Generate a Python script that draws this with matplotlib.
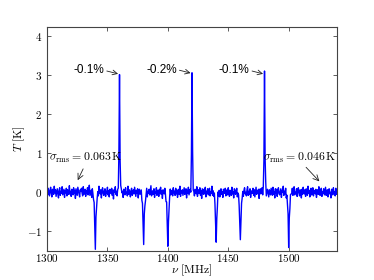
import numpy as np
import matplotlib
matplotlib.use("Agg")
import matplotlib.pyplot as plt
from matplotlib.ticker import FuncFormatter, MultipleLocator

plt.rcParams["mathtext.fontset"] = "cm"
plt.rcParams["font.family"] = ["DejaVu Serif"]

# baseline noise, in units of 0.013 K, one value every 0.5 MHz from 1300 MHz
noise_units = """
3 -5 8 1 -7 4 10 -2 -9 6 2 -4 12 -1 5 -8 0 7 -3 -11
4 9 -6 2 -2 11 -5 1 6 -10 3 -1 8 -7 5 0 -4 13 -3 2
-8 6 1 -5 9 -2 4 -12 7 0 -6 10 3 -3 -9 5 2 8 -1 -7
11 -4 0 6 -8 3 -2 9 -5 1 14 -6 -1 4 -10 7 2 -3 5 -9
1 8 -4 -1 6 -7 12 0 -3 5 -11 4 9 -2 -6 3 7 -8 2 -1
10 -5 3 -9 6 1 -2 8 -6 4 -13 5 0 11 -4 2 -7 6 -1 9
-3 -8 4 7 -1 2 -10 6 3 -5 9 -2 0 -7 12 -4 5 1 -9 3
8 -6 -2 5 -3 10 1 -8 4 -1 7 -11 3 6 -4 0 9 -5 2 -7
5 11 -3 -6 1 8 -9 2 -2 6 -5 4 13 -7 0 3 -4 7 -10 1
-2 9 -6 4 2 -8 6 -1 10 -4 3 -12 5 0 -3 8 1 -7 6 -5
7 -2 -9 3 11 -5 1 4 -7 9 -1 2 -6 8 -3 5 -10 0 6 -4
12 -8 3 -1 5 -6 2 9 -4 0 7 -11 4 -2 10 -5 1 6 -9 3
-1 8 -5 2 -7 6 4 -3 11 -8 0 5 -2 9 -6 3 -12 7 1 -4
6 -3 10 -9 2 -1 7 -5 4 8 -7 1 -2 12 -6 3 -4 9 -1 -8
5 0 -6 11 -3 4 -9 2 7 -4 1 -10 6 3 -2 8 -7 0 5 -5
9 -1 -8 4 2 -6 10 -3 1 -11 7 5 -4 0 8 -9 3 6 -2 -7
13 -5 2 -1 6 -8 4 9 -3 0 -7 5 11 -6 2 -4 7 -10 1 3
-2 8 -6 5 -9 1 10 -4 3 -1 6 -12 4 7 -3 0 9 -5 2 -8
4 -3 11 -7 0 6 -2 -9 5 3 -5 8 1 -6 10 -4 2 -11 7 -1
6 -8 3 9 -2 -5 1 7 -10 4 0 12 -6 2 -3 8 -7 5 -1 10
-4 2 -9 6 1 -3 8 -6 4 11 -5 0 -2 7 -8 3 9 -1 -7 5
2 -11 6 -4 10 1 -3 5 -8 7 0 -6 12 -2 4 -9 3 8 -5 -1
9 -7 4 0 -3 6 -10 2 5 -4 11 -1 -6 3 8 -8 1 -2 7 -5
3 10 -6 -1 5 -9 2 7 -3 0 -11 6 4 -5 9 -2 1 -7 8 -4
2
"""
noise_unit_k = 0.013
f_start = 1300.0
f_step = 0.5

spike_centres = [1360, 1420, 1480]
spike_peaks = [3.05, 3.07, 3.05]
spike_shape = [0.04, 0.3, 1.0, 0.3, 0.04]

dip_centres = [1340, 1380, 1400, 1440, 1460, 1500]
dip_depths = [-1.47, -1.40, -1.47, -1.34, -1.38, -1.36]
dip_shape = [0.04, 0.1, 0.22, 0.5, 1.0, 0.5, 0.22, 0.1, 0.04]

peak_labels = ["-0.1%", "-0.2%", "-0.1%"]
peak_text_x = [1347.2, 1407.3, 1467.4]

rms_labels = [r"$\sigma_{\rm rms} = 0.063\,{\rm K}$", r"$\sigma_{\rm rms} = 0.046\,{\rm K}$"]
rms_text = [(1331.9, 0.89), (1509.4, 0.89)]
rms_arrow_from = [(1329.9, 0.60), (1514.4, 0.64)]
rms_arrow_to = [(1325.4, 0.31), (1525.4, 0.28)]

# build spectrum
temp = np.array(noise_units.split(), dtype=float) * noise_unit_k
freq = f_start + f_step * np.arange(len(temp))


def add_line(centre, amp, shape):
    i0 = int(round((centre - f_start) / f_step))
    half = len(shape) // 2
    temp[i0 - half:i0 + half + 1] += amp * np.array(shape)


for c, a in zip(spike_centres, spike_peaks):
    add_line(c, a, spike_shape)
for c, a in zip(dip_centres, dip_depths):
    add_line(c, a, dip_shape)

fig = plt.figure(figsize=(3.74, 2.8), dpi=100)
ax = fig.add_axes([0.1257, 0.1036, 0.7754, 0.7989])

ax.plot(freq, temp, color="#0000ff", lw=1.0)

ax.set_xlim(1300, 1540)
ax.set_ylim(-1.5, 4.22)
ax.xaxis.set_major_locator(MultipleLocator(50))
ax.yaxis.set_major_locator(MultipleLocator(1))
fmt = FuncFormatter(lambda v, pos: f"${v:g}$")
ax.xaxis.set_major_formatter(fmt)
ax.yaxis.set_major_formatter(fmt)
ax.tick_params(direction="in", top=True, right=True, labelsize=8,
               length=3, width=0.6, color="#444444")
ax.tick_params(axis="x", pad=1)
for s in ax.spines.values():
    s.set_color("#444444")
    s.set_linewidth(0.8)

ax.set_xlabel(r"$\nu\ [\mathrm{MHz}]$", fontsize=8.5, labelpad=-1)
ax.set_ylabel(r"$T\ [\mathrm{K}]$", fontsize=8.5, labelpad=0)

arrow = dict(arrowstyle="->", lw=0.6, color="#222222", shrinkA=0, shrinkB=0)

for lab, tx, c, p in zip(peak_labels, peak_text_x, spike_centres, spike_peaks):
    ax.annotate(lab, xy=(c - 1.2, p - 0.02), xytext=(tx, p + 0.07),
                ha="right", va="center", fontsize=8.5,
                family=["Liberation Sans", "DejaVu Sans"],
                arrowprops=dict(arrow, relpos=(1, 0.5)))

for lab, (tx, ty), a0, a1 in zip(rms_labels, rms_text, rms_arrow_from, rms_arrow_to):
    ax.text(tx, ty, lab, ha="center", va="center", fontsize=8.5)
    ax.annotate("", xy=a1, xytext=a0, arrowprops=arrow)

fig.savefig("out.png", dpi=100)
